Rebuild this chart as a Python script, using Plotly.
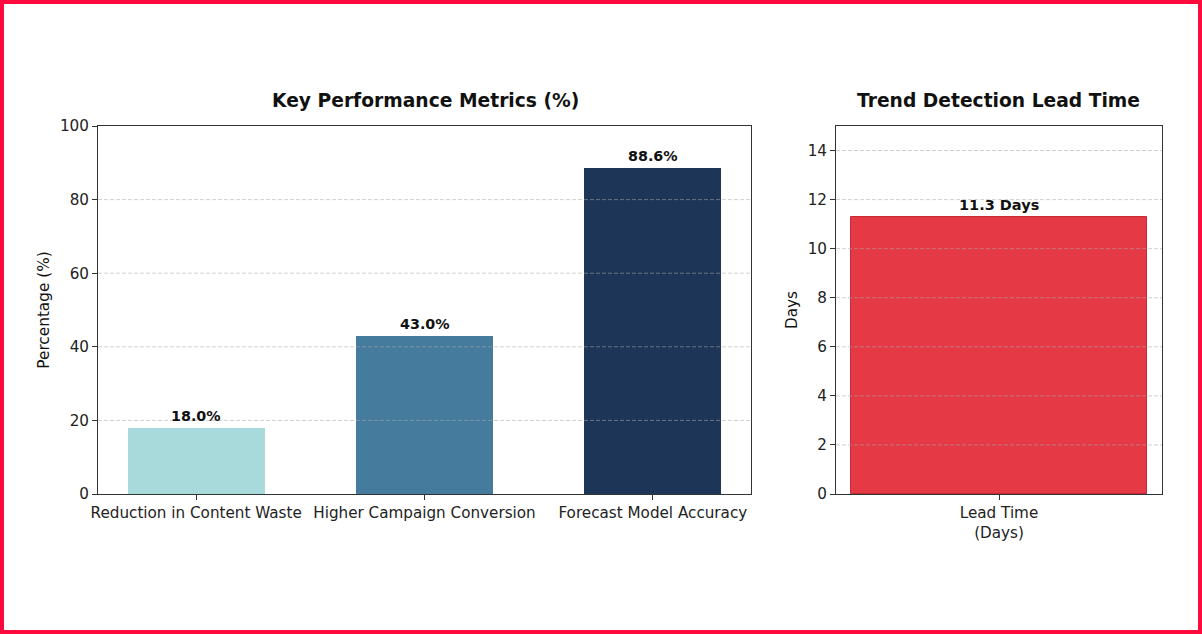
import plotly.graph_objects as go

W, H = 1202, 634

metric_names = ["Reduction in Content Waste", "Higher Campaign Conversion", "Forecast Model Accuracy"]
metric_values = [18.0, 43.0, 88.6]
metric_colors = ["#A8DADC", "#457B9D", "#1D3557"]
metric_ticks = [0, 20, 40, 60, 80, 100]

lead_names = ["Lead Time<br>(Days)"]
lead_values = [11.3]
lead_color = "#E63946"
lead_ticks = [0, 2, 4, 6, 8, 10, 12, 14]

FONT = "DejaVu Sans"

def fx(px):
    return px / W

def fy(py):
    return 1 - py / H

fig = go.Figure()

fig.add_trace(go.Bar(
    x=[0, 1, 2], y=metric_values, width=0.6,
    marker=dict(color=metric_colors, line=dict(width=0)),
    xaxis="x", yaxis="y", showlegend=False, hoverinfo="skip"))

fig.add_trace(go.Bar(
    x=[0], y=lead_values, width=0.5,
    marker=dict(color=lead_color, line=dict(color="#C62A36", width=1)),
    xaxis="x2", yaxis="y2", showlegend=False, hoverinfo="skip"))

axis_common = dict(showline=True, linecolor="#333", linewidth=1, mirror=True,
                   ticks="outside", ticklen=5, tickcolor="#333", zeroline=False,
                   automargin=False, showgrid=False,
                   tickfont=dict(family=FONT, size=15.2, color="#222"))

fig.update_layout(
    template="none",
    width=W, height=H,
    margin=dict(l=0, r=0, t=0, b=0, autoexpand=False),
    plot_bgcolor="white", paper_bgcolor="white",
    font=dict(family=FONT, color="#111"),
    bargap=0,
    xaxis=dict(domain=[fx(98), fx(751)], range=[-0.43, 2.43], tickmode="array",
               tickvals=[0, 1, 2], ticktext=metric_names, anchor="y", **axis_common),
    yaxis=dict(domain=[fy(494), fy(126)], range=[0, 100], tickvals=metric_ticks, anchor="x",
               title=dict(text="Percentage (%)", font=dict(family=FONT, size=15.3, color="#111"), standoff=6),
               **axis_common),
    xaxis2=dict(domain=[fx(836), fx(1162)], range=[-0.275, 0.275], tickmode="array",
                tickvals=[0], ticktext=lead_names, anchor="y2", **axis_common),
    yaxis2=dict(domain=[fy(494), fy(126)], range=[0, 15], tickvals=lead_ticks, anchor="x2",
                title=dict(text="Days", font=dict(family=FONT, size=15.3, color="#111"), standoff=6),
                **axis_common),
)

# dashed grid lines drawn above the bars (as in the reference)
grid_style = dict(color="rgba(170,170,170,0.55)", width=1, dash="4px,2px")
for t in metric_ticks[1:-1]:
    fig.add_shape(type="line", xref="x domain", yref="y", x0=0, x1=1, y0=t, y1=t,
                  line=grid_style, layer="above")
for t in lead_ticks[1:]:
    fig.add_shape(type="line", xref="x2 domain", yref="y2", x0=0, x1=1, y0=t, y1=t,
                  line=grid_style, layer="above")

annotations = []
for i, v in enumerate(metric_values):
    annotations.append(dict(x=i, y=v, xref="x", yref="y", text=f"<b>{v:.1f}%</b>",
                            showarrow=False, yanchor="bottom", yshift=2,
                            font=dict(family=FONT, size=14.3, color="#111")))
for i, v in enumerate(lead_values):
    annotations.append(dict(x=i, y=v, xref="x2", yref="y2", text=f"<b>{v:.1f} Days</b>",
                            showarrow=False, yanchor="bottom", yshift=2,
                            font=dict(family=FONT, size=14.5, color="#111")))
annotations.append(dict(x=fx(425), y=fy(100), xref="paper", yref="paper",
                        text="<b>Key Performance Metrics (%)</b>", showarrow=False,
                        xanchor="center", yanchor="middle", font=dict(family=FONT, size=18.7, color="#111")))
annotations.append(dict(x=fx(998), y=fy(100), xref="paper", yref="paper",
                        text="<b>Trend Detection Lead Time</b>", showarrow=False,
                        xanchor="center", yanchor="middle", font=dict(family=FONT, size=18.7, color="#111")))
fig.update_layout(annotations=annotations)

fig.add_shape(type="rect", xref="paper", yref="paper", x0=0, y0=0, x1=1, y1=1,
              line=dict(color="#FF0A3C", width=8), fillcolor="rgba(0,0,0,0)", layer="above")

fig.write_html("out.html")
